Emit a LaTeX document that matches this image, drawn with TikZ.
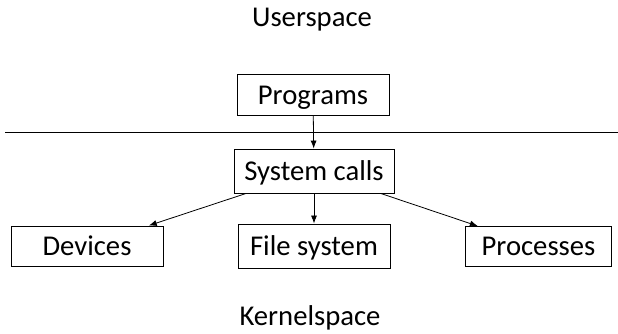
\documentclass[tikz,border=0pt]{standalone}
\usepackage{fontspec}
\setmainfont{Carlito}
\usetikzlibrary{arrows.meta}

\tikzset{
  layerbox/.style={draw, line width=0.6pt, inner sep=0pt, minimum height=31pt,
    text height=13.8pt, text depth=0pt},
  callarrow/.style={-{Latex[length=6pt,width=4.5pt]}, line width=0.6pt},
}

\begin{document}
\begin{tikzpicture}[x=0.75pt, y=-0.75pt]
        \fontsize{21.5}{26}\selectfont
        \useasboundingbox (0,0) rectangle (618,334);

        \node (U) [anchor=base] at (312,27) {Userspace};
        \node (K) [anchor=base] at (310,326) {Kernelspace};

        \node (P) [layerbox, minimum width=114pt] at (313,95) {Programs};
        \draw [line width=0.6pt] (5,132) -- (618,132);
        \node (S) [layerbox, minimum width=120pt, minimum height=33pt] at (314,171) {System calls};

        \node (D) [layerbox, minimum width=114pt, minimum height=30pt] at (87,246) {Devices};
        \node (F) [layerbox, minimum width=114pt, minimum height=33pt] at (314,246) {File system};
        \node (R) [layerbox, minimum width=110pt, minimum height=30pt] at (538.5,246.5) {Processes};

        \draw [callarrow] (P) -- (S);
        \draw [callarrow] (S) -- (D);
        \draw [callarrow] (S) -- (F);
        \draw [callarrow] (S) -- (R);
    \end{tikzpicture}
\end{document}
